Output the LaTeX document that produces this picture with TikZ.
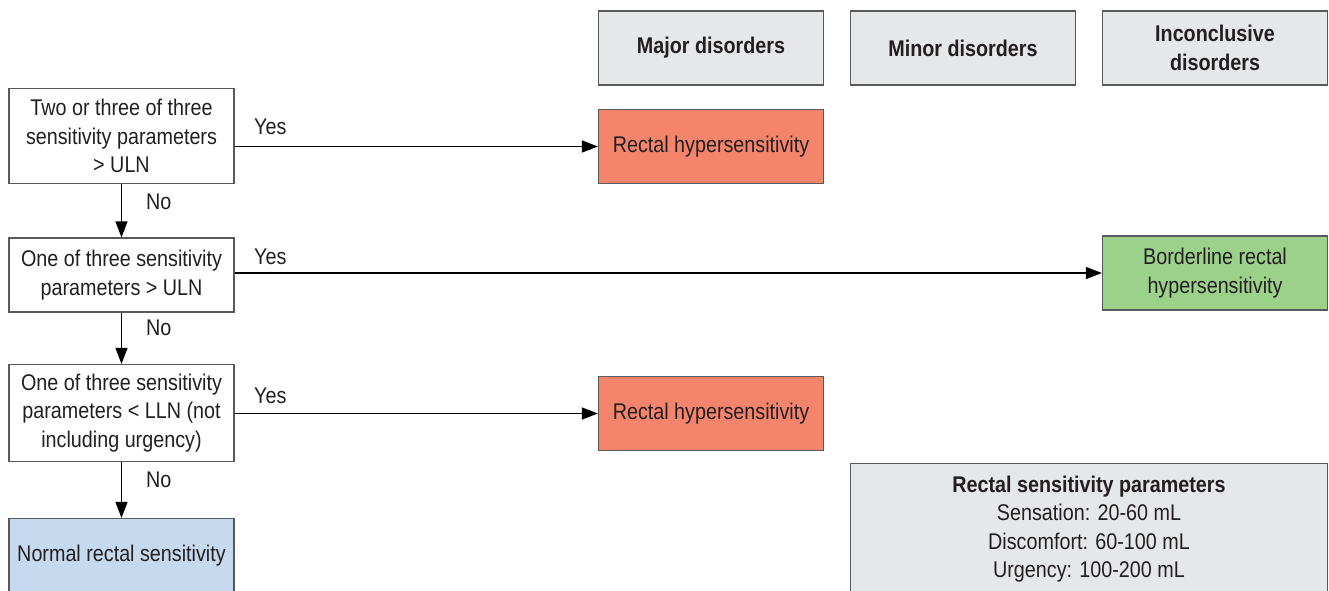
\documentclass[tikz,border=0pt]{standalone}
\usepackage{fontspec}
\setmainfont{Liberation Sans}[FakeStretch=0.87]
\usetikzlibrary{arrows.meta,positioning}

\tikzset{
  box/.style={draw=boxline, line width=1.2pt, inner sep=0pt, align=center,
    minimum width=225pt, minimum height=74pt, text=inkgray},
  arr/.style={line width=1.2pt, -{Triangle[length=16pt,width=12pt]}},
  lbl/.style={inner sep=0pt, text=inkgray}
}

\begin{document}
\begin{tikzpicture}[x=1pt,y=-1pt,font=\fontsize{22.7}{28.5}\selectfont]
\definecolor{inkgray}{rgb}{0.137,0.122,0.125}
\definecolor{boxline}{rgb}{0.35,0.35,0.35}
\definecolor{hdrgray}{rgb}{0.902,0.906,0.910}
\definecolor{salmon}{rgb}{0.957,0.518,0.424}
\definecolor{leafgreen}{rgb}{0.612,0.820,0.541}
\definecolor{paleblue}{rgb}{0.773,0.851,0.937}
\useasboundingbox (0,0) rectangle (1329,590);
\clip (0,0) rectangle (1329,590);
% column heads
\node[box, fill=hdrgray, font=\fontsize{22.7}{28.5}\selectfont\bfseries] (major) at (711,48) {Major disorders};
\node[box, fill=hdrgray, font=\fontsize{22.7}{28.5}\selectfont\bfseries] (minor) at (963,48) {Minor disorders};
\node[box, fill=hdrgray, font=\fontsize{22.7}{28.5}\selectfont\bfseries] (incon) at (1215,48) {Inconclusive\\disorders};
% decision boxes
\node[box, minimum height=95pt] (q1) at (121.5,136) {Two or three of three\\sensitivity parameters\\> ULN};
\node[box] (q2) at (121.5,275) {One of three sensitivity\\parameters > ULN};
\node[box, minimum height=97pt] (q3) at (121.5,413) {One of three sensitivity\\parameters < LLN (not\\including urgency)};
\node[box, fill=paleblue] (normal) at (121.5,555.5) {Normal rectal sensitivity};
% outcomes
\node[box, fill=salmon] (hyp1) at (711,146.5) {Rectal hypersensitivity};
\node[box, fill=leafgreen] (border) at (1215,273) {Borderline rectal\\hypersensitivity};
\node[box, fill=salmon] (hyp2) at (711,413.5) {Rectal hypersensitivity};
\node[box, fill=hdrgray, minimum width=477pt, minimum height=131pt] (params) at (1089,529)
  {\textbf{Rectal sensitivity parameters}\\Sensation: 20-60 mL\\Discomfort: 60-100 mL\\Urgency: 100-200 mL};
% yes arrows
\draw[arr] (q1.east |- hyp1.west) -- (hyp1.west)
  node[lbl, pos=0, anchor=south west, xshift=19pt, yshift=11pt] (yes1) {Yes};
\draw[arr] (q2.east |- border.west) -- (border.west)
  node[lbl, pos=0, anchor=south west, xshift=19pt, yshift=8pt] (yes2) {Yes};
\draw[arr] (q3.east |- hyp2.west) -- (hyp2.west)
  node[lbl, pos=0, anchor=south west, xshift=19pt, yshift=9pt] (yes3) {Yes};
% no arrows
\draw[arr] (q1.south) -- (q2.north)
  node[lbl, pos=0.34, anchor=west, xshift=24pt] (no1) {No};
\draw[arr] (q2.south) -- (q3.north)
  node[lbl, pos=0.3, anchor=west, xshift=24pt] (no2) {No};
\draw[arr] (q3.south) -- (normal.north)
  node[lbl, pos=0.32, anchor=west, xshift=24pt] (no3) {No};
\end{tikzpicture}
\end{document}
